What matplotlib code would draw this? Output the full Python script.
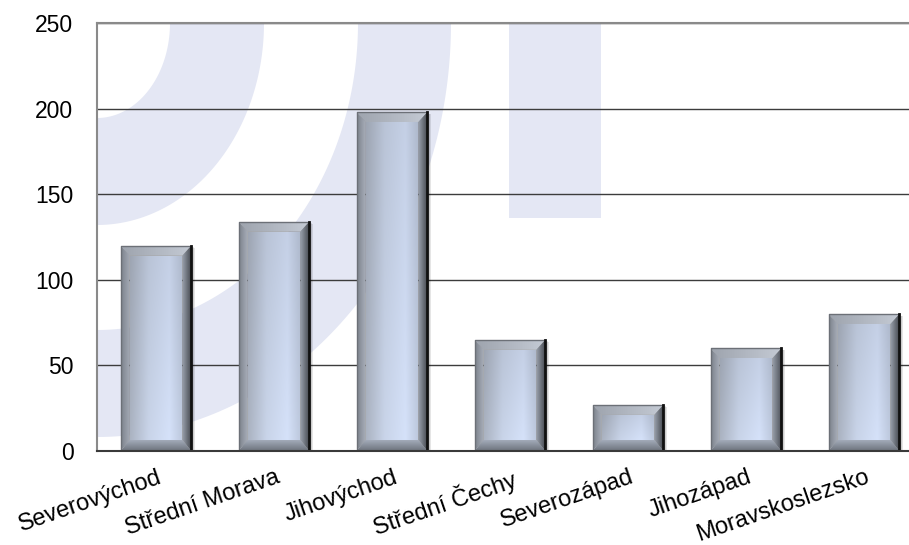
import numpy as np
import matplotlib
matplotlib.use("Agg")
import matplotlib.pyplot as plt
from matplotlib.patches import Polygon, Rectangle
from matplotlib.colors import to_rgb
from matplotlib.transforms import ScaledTranslation

# Data
regions = ["Severovýchod", "Střední Morava", "Jihovýchod", "Střední Čechy",
           "Severozápad", "Jihozápad", "Moravskoslezsko"]
counts = [120, 134, 198, 65, 27, 60, 80]
y_ticks = [0, 50, 100, 150, 200, 250]

plt.rcParams['font.family'] = ['Liberation Sans', 'DejaVu Sans']

W, H = 909, 545
fig = plt.figure(figsize=(W / 100, H / 100), dpi=100)
fig.patch.set_facecolor('white')

# axes box in pixels (right side runs past the canvas like the original)
AX_L, AX_R, AX_T, AX_B = 97, 923, 23, 451
ax = fig.add_axes([AX_L / W, 1 - AX_B / H, (AX_R - AX_L) / W, (AX_B - AX_T) / H])

XMIN, XMAX = -0.5, len(regions) - 0.5
YMAX = y_ticks[-1]
px_x = (XMAX - XMIN) / (AX_R - AX_L)
px_y = YMAX / (AX_B - AX_T)


def grad_fill(verts, c0, c1, horizontal=True, zorder=3):
    """Fill polygon with a linear gradient (c0 -> c1, left->right or bottom->top)."""
    verts = np.asarray(verts)
    poly = Polygon(verts, closed=True, facecolor='none', edgecolor='none')
    ax.add_patch(poly)
    t = np.linspace(0, 1, 64)
    a, b = np.array(to_rgb(c0)), np.array(to_rgb(c1))
    cols = a + (b - a) * t[:, None]
    img = cols[None, :, :] if horizontal else cols[:, None, :]
    im = ax.imshow(img, extent=(verts[:, 0].min(), verts[:, 0].max(),
                                verts[:, 1].min(), verts[:, 1].max()),
                   origin='lower', aspect='auto', interpolation='bilinear',
                   zorder=zorder)
    im.set_clip_path(poly)


def face_fill(x0, x1, y0, y1, zorder=3):
    """Light blue bar face, darker at the left, brighter toward the bottom."""
    poly = Polygon([(x0, y0), (x1, y0), (x1, y1), (x0, y1)], closed=True,
                   facecolor='none', edgecolor='none')
    ax.add_patch(poly)
    u = np.linspace(0, 1, 64)
    stops = np.array([0.0, 0.35, 0.75, 1.0])
    cstops = np.array([to_rgb('#A6AEBC'), to_rgb('#C3CEE2'),
                       to_rgb('#CFDBF2'), to_rgb('#B7C2D6')])
    horiz = np.stack([np.interp(u, stops, cstops[:, k]) for k in range(3)], axis=1)
    v = np.linspace(0, 1, 64)[:, None, None]
    img = np.clip(horiz[None, :, :] * (1.03 - 0.08 * v), 0, 1)
    im = ax.imshow(img, extent=(x0, x1, y0, y1), origin='lower', aspect='auto',
                   interpolation='bilinear', zorder=zorder)
    im.set_clip_path(poly)


# faint watermark logo behind the plot (quarter elliptical bands + a bar)
wm_color = '#E4E7F4'
ax_w, ax_h = AX_R - AX_L, AX_B - AX_T


def arc_band(a_in, b_in, a_out, b_out):
    t = np.linspace(0, np.pi / 2, 90)
    outer = np.column_stack([a_out * np.cos(t) / ax_w, 1 - b_out * np.sin(t) / ax_h])
    inner = np.column_stack([a_in * np.cos(t[::-1]) / ax_w, 1 - b_in * np.sin(t[::-1]) / ax_h])
    return np.vstack([outer, inner])


for band in [(73, 95, 167, 202), (261, 307, 354, 414)]:
    ax.add_patch(Polygon(arc_band(*band), closed=True, transform=ax.transAxes,
                         facecolor=wm_color, edgecolor='none', zorder=0.5))
ax.add_patch(Rectangle(((509 - AX_L) / ax_w, (AX_B - 218) / ax_h), 92 / ax_w,
                       (218 - AX_T) / ax_h, transform=ax.transAxes,
                       facecolor=wm_color, edgecolor='none', zorder=0.5))

# base bars, then bevel decoration on top of each one
bars = ax.bar(range(len(regions)), counts, width=0.6, color='none',
              edgecolor='none', zorder=3)

sx, st, sb = 9 * px_x, 10 * px_y, 11 * px_y
for bar in bars:
    x0, w, h = bar.get_x(), bar.get_width(), bar.get_height()
    x1, y0, y1 = x0 + w, 0, h

    # soft drop shadow to the right
    for k in range(1, 5):
        ax.add_patch(Rectangle((x0 + k * px_x, y0), w, h - k * px_y * 0.5,
                               facecolor='#000000', edgecolor='none',
                               alpha=0.10, zorder=2.5))

    face_fill(x0 + sx, x1 - sx, y0 + sb, y1 - st)
    grad_fill([(x0, y1), (x1, y1), (x1 - sx, y1 - st), (x0 + sx, y1 - st)],
              '#9EA4AE', '#C4CAD4')
    grad_fill([(x0, y0), (x0, y1), (x0 + sx, y1 - st), (x0 + sx, y0 + sb)],
              '#7C828C', '#A9AFBA')
    grad_fill([(x1, y0), (x1, y1), (x1 - sx, y1 - st), (x1 - sx, y0 + sb)],
              '#9CA3AF', '#4A4E55')
    grad_fill([(x0, y0), (x1, y0), (x1 - sx, y0 + sb), (x0 + sx, y0 + sb)],
              '#6C727C', '#A3ABB9', horizontal=False)

    ax.plot([x0, x0, x1], [y0, y1, y1], color='#6C7077', lw=1, zorder=4)
    ax.plot([x1, x1], [y0, y1], color='#111111', lw=2, zorder=4)

ax.set_xlim(XMIN, XMAX)
ax.set_ylim(0, YMAX)

ax.set_yticks(y_ticks)
ax.yaxis.grid(True, color='#3C3C3C', lw=1)
for gl in ax.get_ygridlines():
    gl.set_zorder(1)
ax.tick_params(axis='y', length=0, pad=17, labelsize=16.5)

ax.set_xticks(range(len(regions)))
ax.set_xticklabels(regions, rotation=19, ha='right', rotation_mode='anchor',
                   fontsize=17)
ax.tick_params(axis='x', length=0, pad=11)
shift = ScaledTranslation(1 / 100, 0, fig.dpi_scale_trans)
for lbl in ax.get_xticklabels():
    lbl.set_transform(lbl.get_transform() + shift)

for side in ['top', 'left']:
    ax.spines[side].set_color('#8A8A8A')
    ax.spines[side].set_linewidth(1.5)
ax.spines['bottom'].set_color('#3A3A3A')
ax.spines['bottom'].set_linewidth(1.5)
ax.spines['bottom'].set_zorder(5)
ax.spines['right'].set_visible(False)

fig.savefig('out.png', dpi=100)
